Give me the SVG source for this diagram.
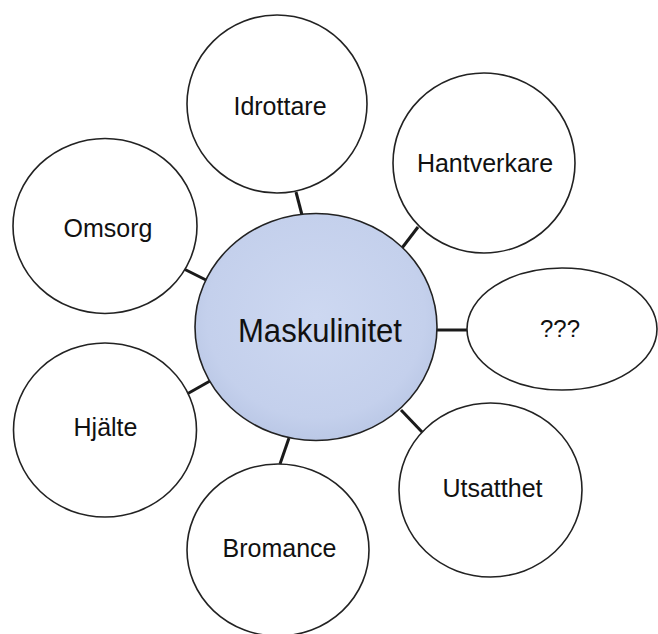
<svg xmlns="http://www.w3.org/2000/svg" width="658" height="634" viewBox="0 0 658 634">
<style>
.n{fill:#fff;stroke:#222;stroke-width:1.6}
.t{font-family:"Liberation Sans",Arial,sans-serif;font-size:25px;fill:#111;text-anchor:middle}
.c{stroke:#1a1a1a;stroke-width:3;fill:none}
</style>
<defs>
<radialGradient id="g" cx="0.5" cy="0.45" r="0.6">
<stop offset="0" stop-color="#cdd8f1"/>
<stop offset="0.75" stop-color="#c4d0ec"/>
<stop offset="1" stop-color="#b6c4e3"/>
</radialGradient>
</defs>
<rect width="658" height="634" fill="#fff"/>
<g id="connectors">
<line class="c" x1="296" y1="192" x2="302" y2="215"/>
<line class="c" x1="418" y1="227" x2="402" y2="248"/>
<line class="c" x1="184" y1="269" x2="208" y2="281"/>
<line class="c" x1="437" y1="330" x2="468" y2="330"/>
<line class="c" x1="187" y1="394" x2="210" y2="381"/>
<line class="c" x1="289" y1="438" x2="280" y2="464"/>
<line class="c" x1="401" y1="410" x2="423" y2="433"/>
</g>
<g id="center">
<ellipse cx="316" cy="327" rx="121" ry="113.5" fill="url(#g)" stroke="#222" stroke-width="1.6"/>
<text x="320" y="342" style="font-family:'Liberation Sans',Arial,sans-serif;font-size:33px;fill:#111;text-anchor:middle" textLength="164" lengthAdjust="spacingAndGlyphs">Maskulinitet</text>
</g>
<g id="idrottare">
<ellipse class="n" cx="277" cy="104" rx="90" ry="89"/>
<text class="t" x="280" y="115">Idrottare</text>
</g>
<g id="hantverkare">
<ellipse class="n" cx="484" cy="163" rx="91" ry="90"/>
<text class="t" x="485" y="172">Hantverkare</text>
</g>
<g id="omsorg">
<ellipse class="n" cx="105" cy="226" rx="92" ry="87.5"/>
<text class="t" x="108" y="237">Omsorg</text>
</g>
<g id="qqq">
<ellipse class="n" cx="562" cy="329" rx="95" ry="61"/>
<text x="560" y="337" style="font-family:'Liberation Sans',Arial,sans-serif;font-size:24px;fill:#111;text-anchor:middle">???</text>
</g>
<g id="hjalte">
<ellipse class="n" cx="105" cy="430" rx="91.5" ry="87"/>
<text class="t" x="105.5" y="436">Hjälte</text>
</g>
<g id="utsatthet">
<ellipse class="n" cx="490.5" cy="490" rx="91.5" ry="87"/>
<text class="t" x="492.5" y="497">Utsatthet</text>
</g>
<g id="bromance">
<ellipse class="n" cx="278" cy="550" rx="91" ry="86"/>
<text class="t" x="279.5" y="557">Bromance</text>
</g>
</svg>
